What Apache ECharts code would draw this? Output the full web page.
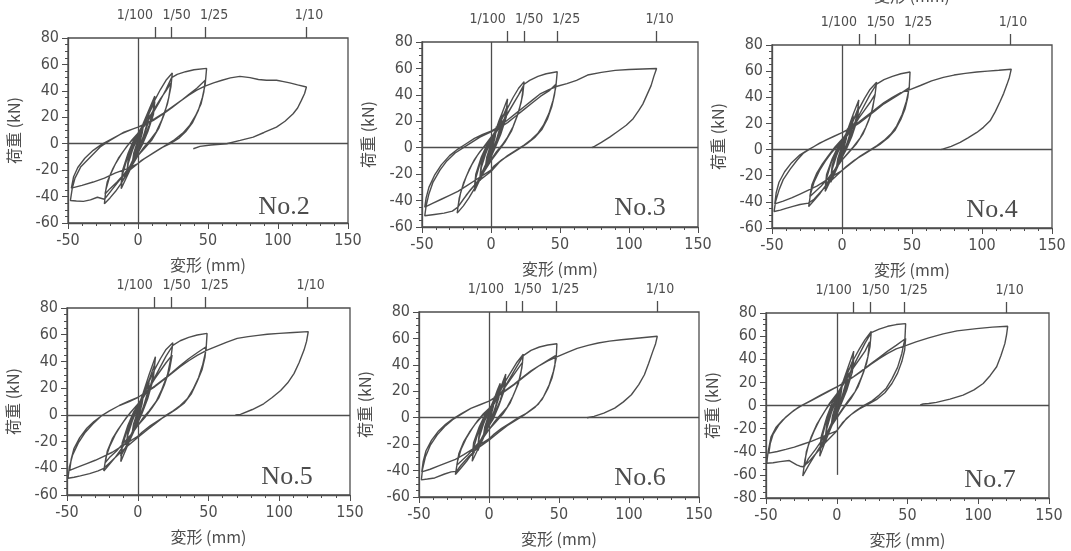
<!DOCTYPE html>
<html>
<head>
<meta charset="UTF-8">
<title>荷重-変形関係</title>
<script src="https://cdn.jsdelivr.net/npm/echarts@6/dist/echarts.min.js"></script>
<style>
html, body { margin: 0; padding: 0; background: #fff; }
#main { width: 1071px; height: 551px; }
</style>
</head>
<body>
<div id="main"></div>
<script>
// drift angle marks on the top axis (mm, height about 1200 mm)
var driftMm = [12, 24, 48, 120];
var driftLabels = ['1/100', '1/50', '1/25', '1/10'];
var specimenNames = ['No.2', 'No.3', 'No.4', 'No.5', 'No.6', 'No.7'];
var loadRanges = [[-60, 80], [-60, 80], [-60, 80], [-60, 80], [-60, 80], [-80, 80]];

// small cycles near the origin (No.2 - No.6)
var earlyCycles = [
  [0,0],[1,6],[2,10],[1.2,5],[0,0],[-1,-5],[-2,-9],[-1.2,-4],[0,1],
  [2,9],[4,16],[3,9],[1,1],[0,-3],[-2,-9],[-4,-15],[-3,-8],[-1,0],[0,3],
  [2,10],[4,15],[3,8],[1,0],[-2,-8],[-4,-14],[-3,-7],[0,3],
  [3,12],[6,21],[8,26],[7,17],[4,6],[1,-2],[0,-5],[-3,-13],[-6,-20],[-8,-25],[-7,-15],[-4,-5],[-1,3],[0,5],
  [4,15],[8,25],[7,16],[3,3],[0,-5],[-4,-14],[-8,-23],[-7,-13],[-3,-1],[0,5],
  [4,14],[8,24],[7,15],[3,2],[0,-4],[-4,-13],[-8,-22],[-7,-12],[-3,0],[0,5]
];
var earlyCyclesNo7 = [
  [0,0],[1,7],[2,12],[1.2,6],[0,0],[-1,-6],[-2,-11],[-1.2,-5],[0,1],
  [2,11],[4,20],[3,12],[1,2],[0,-3],[-2,-11],[-4,-19],[-3,-11],[-1,-1],[0,4],
  [2,12],[4,19],[3,10],[1,1],[-2,-10],[-4,-18],[-3,-9],[0,4],
  [3,15],[6,26],[8,33],[7,22],[4,9],[1,-1],[0,-5],[-3,-15],[-6,-25],[-8,-31],[-7,-20],[-4,-7],[-1,3],[0,6],
  [4,19],[8,30],[7,20],[3,5],[0,-6],[-4,-17],[-8,-28],[-7,-17],[-3,-2],[0,6],
  [4,18],[8,29],[7,19],[3,4],[0,-5],[-4,-16],[-8,-27],[-7,-16],[-3,-1],[0,6]
];

var no2Loops = [
  [4,16],[8,26],[12,36],[11,26],[8,14],[4,3],[0,-7],[-4,-16],[-8,-25],[-12,-34],[-11,-23],[-8,-12],[-4,-1],[0,7],
  [4,14],[8,23],[12,32],[11,22],[7,9],[3,-1],[0,-7],[-4,-14],[-8,-22],[-12,-30],[-11,-20],[-7,-7],[-3,3],[0,8],
  [4,15],[8,24],[12,33],[16,41],[20,48],[24.5,53.5],[23.5,43],[21,30],[17,18],[13,9],[8,2],[4,-3],[0,-9],
  [-4,-16],[-8,-23],[-12,-30],[-16,-36],[-20,-41],[-24,-45.4],[-23,-35],[-20,-24],[-16,-15],[-12,-8],[-8,-2],[-4,3],[0,8],
  [4,13],[8,20],[12,27],[16,34],[20,40],[23.5,46],[22,35],[19,23],[15,12],[10,3],[5,-3],[0,-9],
  [-5,-16],[-10,-23],[-15,-29],[-20,-34],[-23.5,-38],[-22,-29],[-18,-19],[-14,-11],[-10,-5],[-5,2],[0,8],
  [5,14],[10,22],[15,31],[20,41],[24,50],[28,52.5],[34,54.5],[40,56],[49,57],[48,45],[46,35],[43,25],[39,16],
  [34,9],[29,4],[23,0],[17,-3],[11,-7],[5,-11],[0,-15],[-6,-20],[-12,-26],[-18,-34],[-24,-42],[-29,-40.5],
  [-34,-42.5],[-39,-43.6],[-44,-43.3],[-48.3,-43],[-47,-34],[-45,-26],[-41,-17.7],[-34,-10],[-27,-2.5],[-20,2.5],
  [-10,8.8],[0,12.6],[6,15],[11,17.7],[18,22.5],[24,27],[30,32],[36,37],[42,42],[48,48],[47,39],[45,30],[41,21],
  [37,14],[32,8],[26,3],[20,-1],[14,-5],[8,-9],[2,-13],[0,-15],[-8,-19],[-16,-22],[-24,-26],[-32,-29],[-40,-31.5],
  [-47.6,-33.6],[-46,-25],[-43,-18],[-38,-11],[-32,-5],[-26,-0.5],[-20,3],[-12,7.5],[-4,11],[0,12.5],[6,15.5],
  [12,19],[18,23],[24,27.5],[30,32],[36,36.5],[42,40.5],[47.4,43.4],[54,46],[60,48],[66,49.8],[72.8,51],[80,50],
  [86,48.6],[91.8,48],[99,48],[104,47],[108.4,46],[114,44.5],[120.3,42.9],[119,38],[116.7,32.8],[114,27],
  [110.8,22.7],[105,17],[98.9,12.6],[90,8.5],[82.3,5],[73,2.5],[63.3,0],[52,-1],[44.3,-2],[39.5,-3.8]
];

var no3Loops = [
  [4,15],[8,26],[12,37],[11,27],[8,15],[4,4],[0,-6],[-4,-15],[-8,-24],[-12,-33],[-11,-23],[-8,-12],[-4,-1],[0,6],
  [4,13],[8,22],[12,32],[11,23],[7,10],[3,0],[0,-7],[-4,-14],[-8,-22],[-12,-30],[-11,-20],[-7,-7],[-3,2],[0,7],
  [4,14],[8,22],[12,30],[16,38],[20,45],[24,50],[23,40],[20,27],[16,16],[12,8],[8,2],[4,-3],[0,-9],
  [-4,-16],[-8,-24],[-12,-31],[-16,-38],[-20,-44],[-24.5,-49.5],[-23,-38],[-20,-27],[-16,-17],[-12,-9],[-8,-3],[-4,2],[0,7],
  [4,12],[8,19],[12,26],[16,33],[20,40],[23.5,46],[22,35],[19,24],[15,13],[10,4],[5,-3],[0,-10],
  [-5,-18],[-10,-26],[-15,-32],[-20,-39],[-24,-45],[-22,-34],[-18,-22],[-14,-13],[-10,-6],[-5,1],[0,8],
  [5,14],[10,22],[15,31],[20,40],[24,48],[28,51],[34,54],[40,56],[48,57.5],[47,46],[45,36],[42,26],[38,17],
  [34,11],[29,6],[24,2],[18,-2],[12,-6],[6,-11],[0,-18],[-10,-26],[-18,-36],[-24,-45],[-28,-48],[-34,-49.5],
  [-41,-50.5],[-48,-51.5],[-47,-44],[-45,-35],[-42,-26],[-37,-17],[-32,-10],[-26,-4],[-20,0],[-14,4],[-8,8],
  [0,12],[6,15],[12,19],[18,24],[24,29],[30,34],[36,39],[42,43],[47,48],[46,40],[44,31],[41,22],[37,14],[32,8],
  [26,3],[20,-1],[14,-5],[8,-9],[2,-14],[0,-17],[-6,-21],[-12,-25],[-18,-29],[-24,-33],[-30,-36],[-36,-39],
  [-42,-42],[-48,-45],[-47,-38],[-45,-30],[-41,-21],[-36,-13],[-30,-6],[-24,-1],[-18,3],[-12,7],[-6,10],[0,12.5],
  [6,16],[12,21],[18,26],[24,31],[30,36],[36,41],[42,44],[48,46.5],[55,48.5],[62,51],[70,55],[80,57],[90,58.5],
  [100,59.2],[110,59.6],[120,60],[118,54],[116,47],[113,40],[110,33],[107,28],[103,22],[98,17],[92,12.5],
  [86,8],[80,4],[75,1],[73,0]
];

var no4Loops = [
  [4,15],[8,27],[12,38],[11,28],[8,15],[4,4],[0,-6],[-4,-14],[-8,-23],[-12,-32],[-11,-22],[-8,-11],[-4,-1],[0,6],
  [4,13],[8,22],[12,33],[11,23],[7,10],[3,0],[0,-6],[-4,-13],[-8,-21],[-12,-29],[-11,-19],[-7,-7],[-3,2],[0,7],
  [4,14],[8,22],[12,31],[16,39],[20,46],[24.7,51.5],[23.5,41],[21,28],[17,17],[13,9],[8,2],[4,-3],[0,-8],
  [-4,-14],[-8,-21],[-12,-28],[-16,-34],[-20,-39],[-23.8,-43.6],[-22.5,-34],[-20,-25],[-16,-16],[-12,-9],[-8,-3],[-4,2],[0,7],
  [4,11],[8,17],[12,24],[16,30],[20,36],[23.5,42],[22,32],[19,22],[15,12],[10,4],[5,-2],[0,-8],
  [-5,-15],[-10,-22],[-15,-28],[-20,-33],[-23,-36],[-21.5,-27],[-18,-18],[-14,-11],[-10,-5],[-5,2],[0,8],
  [5,14],[10,22],[15,32],[20,42],[24.7,50],[30,53.5],[36,56],[42,58],[48.6,59.3],[48,47],[46,37],[43,27],[39,18],
  [35,12],[30,7],[25,3],[19,-1],[13,-5],[7,-10],[0,-16],[-8,-24],[-15,-32],[-20,-38],[-24,-41],[-30,-42],
  [-35,-43.5],[-40,-45],[-44,-46.3],[-48.5,-47.4],[-47.5,-40],[-45,-31],[-42,-23],[-37,-15],[-32,-8],[-27.8,-3],
  [-22,1],[-16,5],[-8,9],[0,13],[6,16],[12,20],[18,25],[24,30],[30,35],[36,39],[42,43],[47.8,47.2],[47,40],
  [45,31],[42,23],[38,15],[33,9],[27,4],[21,0],[15,-4],[9,-8],[3,-13],[0,-16],[-6,-20],[-12,-24],[-18,-28],
  [-24,-31],[-30,-34],[-36,-37],[-42,-39.5],[-48,-41.6],[-47,-33],[-45,-25],[-41,-17],[-36,-10],[-30,-4],[-24,0],
  [-18,3.5],[-12,7],[-6,10],[0,13],[6,16.5],[12,21],[18,26],[24,31],[30,36],[36,40],[42,43.5],[48.6,45.9],
  [56,49],[64,52.5],[72.4,55.2],[80,57],[88,58.3],[96.3,59.3],[104,60],[112,60.7],[120.9,61.5],[119.5,55],
  [117.8,49.7],[115.5,43],[113,37],[109.5,29],[105.8,22],[101,17],[96.3,13.1],[90,9],[84.4,5.5],[78,2.5],
  [72.4,0.5],[70.5,0]
];

var no5Loops = [
  [4,17],[8,30],[12.5,43.5],[11.5,32],[8,18],[4,6],[0,-5],[-4,-15],[-8,-25],[-12,-35],[-11,-24],[-8,-13],[-4,-2],[0,6],
  [4,15],[8,26],[12,38],[11,27],[7,12],[3,1],[0,-6],[-4,-14],[-8,-23],[-12,-31],[-11,-21],[-7,-8],[-3,2],[0,7],
  [4,15],[8,25],[12,34],[16,42],[20,49],[24.8,54],[23.5,43],[21,30],[17,19],[13,10],[8,3],[4,-2],[0,-8],
  [-4,-14],[-8,-20],[-12,-26],[-16,-32],[-20,-37],[-24,-42],[-22.5,-32],[-20,-24],[-16,-15],[-12,-8],[-8,-2],[-4,3],[0,8],
  [4,13],[8,20],[12,27],[16,33],[20,39],[24.3,44.7],[22.5,34],[19,23],[15,13],[10,5],[5,-2],[0,-8],
  [-5,-15],[-10,-21],[-15,-27],[-20,-32],[-22.9,-35.7],[-21.5,-27],[-18,-18],[-14,-11],[-10,-5],[-5,2],[0,8],
  [5,15],[10,24],[15,34],[20,44],[24.8,52],[30,55.5],[36,58],[42,59.8],[49,61],[48.3,49],[46,38],[43,28],[39,19],
  [35,12],[30,7],[25,3],[19,-1],[13,-6],[7,-11],[0,-17],[-8,-24],[-15,-31],[-20,-36],[-24,-40],[-28,-42],
  [-34,-44],[-40.6,-45.7],[-45,-46.7],[-49.3,-47.5],[-48.3,-39],[-46,-30],[-42,-21],[-37,-13],[-31,-6],[-26,-1],
  [-20,3],[-13,7],[-6,10.5],[0,13],[6,17],[12,21.5],[18,26.5],[24,31.5],[30,37],[36,42],[42,46.5],[48.3,51],
  [47.5,43],[45.5,34],[42,25],[38,16],[33,9],[27,4],[21,0],[15,-4],[9,-8],[3,-13],[0,-16],[-6,-20],[-12,-24],
  [-18,-28],[-24,-31],[-30,-34],[-36,-36.5],[-42,-39],[-48.1,-41.5],[-47,-33],[-45,-25],[-41,-17],[-36,-10],
  [-31,-5],[-26,-1],[-20,3],[-13,7],[-6,10],[0,13],[6,17],[12,21],[18,26],[24,31],[30,36],[36,40.5],[42,44.5],
  [49,48.5],[56,51.5],[63,54.5],[70.3,57.3],[78,58.6],[85,59.5],[91.5,60.3],[100,61],[110,61.7],[120.5,62.3],
  [119.3,55],[117.5,48.5],[114,39],[110.4,30.9],[106,24],[101,18.3],[95,13],[89,8.3],[81,4],[72.6,0.3],[69,0]
];

var no6Loops = [
  [4,12],[8,22],[12,33],[11,24],[8,13],[4,3],[0,-6],[-4,-15],[-8,-24],[-12,-33],[-11,-23],[-8,-12],[-4,-2],[0,5],
  [4,11],[8,20],[12,30],[11,21],[7,9],[3,-1],[0,-6],[-4,-13],[-8,-21],[-12,-29],[-11,-19],[-7,-7],[-3,2],[0,6],
  [4,13],[8,20],[12,28],[16,35],[20,42],[24.5,48],[23.5,38],[21,26],[17,16],[13,8],[8,2],[4,-3],[0,-9],
  [-4,-15],[-8,-21],[-12,-27],[-16,-33],[-20,-38],[-24,-43],[-22.5,-33],[-20,-24],[-16,-15],[-12,-8],[-8,-2],[-4,3],[0,7],
  [4,12],[8,18],[12,24],[16,30],[20,36],[24,42],[22.5,32],[19,21],[15,11],[10,3],[5,-3],[0,-9],
  [-5,-16],[-10,-22],[-15,-28],[-20,-33],[-23,-36],[-21.5,-27],[-18,-18],[-14,-11],[-10,-5],[-5,1],[0,7],
  [5,13],[10,21],[15,30],[20,39],[24.5,47],[30,51],[36,53.5],[42,55],[48.5,56],[48,45],[46,35],[43,25],[39,16],
  [35,10],[30,6],[25,2],[19,-2],[13,-6],[7,-11],[0,-17],[-8,-23],[-15,-30],[-20,-36],[-23.3,-40.6],[-27,-41],
  [-31.7,-42.6],[-38.8,-45.6],[-44,-46.4],[-48.3,-47],[-47.5,-39],[-45.5,-30],[-42,-21],[-37,-13],[-31,-6],
  [-26,-1.5],[-20,2.5],[-13,7],[-6,10],[0,12.5],[6,16],[12,20.5],[18,25],[24,30],[30,35],[36,39.5],[42,43.5],
  [47.5,47],[47,39],[45,30],[42,22],[38,14],[33,8],[27,3.5],[21,0],[15,-4],[9,-8],[3,-13],[0,-16],[-6,-20],
  [-12,-24],[-18,-28],[-24,-31.5],[-30,-34],[-36,-36.5],[-42,-39],[-48,-41],[-47,-33],[-45,-25],[-41,-17],
  [-36,-10],[-31,-5],[-26,-1],[-20,3],[-13,7],[-6,10],[0,12.5],[6,16.5],[12,21],[18,25.5],[24,30.5],[30,35.5],
  [36,39.5],[42,43],[49.3,46.4],[56,49.5],[63,52.5],[70.7,54.7],[78,56.5],[86,58],[94.5,59],[102,59.8],
  [111,60.7],[120.2,61.6],[119,56],[117,50.2],[114,41],[111,32.5],[107,25],[101.7,17.4],[96,12],[89.8,7.3],
  [82,3.5],[75,1],[70,0]
];

var no7Loops = [
  [4,19],[8,33],[12,47],[11,35],[8,20],[4,6],[0,-8],[-4,-19],[-8,-31],[-12,-44],[-11,-31],[-8,-16],[-4,-3],[0,8],
  [4,17],[8,29],[12,41],[11,29],[7,13],[3,1],[0,-8],[-4,-17],[-8,-28],[-12,-39],[-11,-27],[-7,-10],[-3,3],[0,9],
  [4,18],[8,29],[12,40],[16,49],[20,57],[24.4,64],[23.5,51],[21,36],[17,23],[13,12],[8,4],[4,-3],[0,-10],
  [-4,-18],[-8,-27],[-12,-36],[-16,-44],[-20,-52],[-24,-61],[-22.5,-47],[-20,-34],[-16,-22],[-12,-12],[-8,-4],[-4,3],[0,10],
  [4,17],[8,25],[12,33],[16,40],[20,47],[23.2,55],[22,42],[19,29],[15,16],[10,6],[5,-2],[0,-11],
  [-5,-20],[-10,-29],[-15,-38],[-20,-46],[-22.8,-52.7],[-21.5,-40],[-18,-27],[-14,-16],[-10,-8],[-5,2],[0,10],
  [5,19],[10,30],[15,42],[20,54],[24.4,63],[30,66],[36,68.5],[42,70],[48.7,70.8],[48.2,58],[46,45],[43,33],[39,23],
  [35,15],[30,9],[25,4],[19,0],[13,-5],[7,-11],[0,-22],[-8,-32],[-15,-42],[-20,-49],[-24,-53],[-26,-52.5],
  [-28.3,-51.3],[-33.5,-47.6],[-40,-48.5],[-45,-49.5],[-49.5,-50],[-48.5,-40],[-46.4,-27],[-43,-19],[-38.2,-12.5],
  [-32,-6],[-26.4,-1],[-19.3,3.3],[-12,8],[-6,12],[0,16],[6,20],[12,25],[18,30.5],[24,36],[30,41.5],[36,47],
  [42,52],[48.7,57.9],[48,48],[46,38],[43,28],[39,19],[34,11],[28,5],[22,1],[16,-3],[10,-8],[4,-15],[0,-22],
  [-6,-25],[-12,-28],[-18,-31],[-24,-33.5],[-30,-36],[-36,-38],[-42,-39.8],[-48,-41.2],[-47,-33],[-45,-25],
  [-41,-17],[-36,-10],[-30,-4],[-24,0.5],[-18,4.5],[-12,8.5],[-6,12.5],[0,16],[6,20.5],[12,25],[18,30],
  [24,35.5],[30,40.5],[36,45],[42,49],[49.2,52],[56,55],[65,58.5],[75.2,62],[85,64.5],[98.8,66.5],[110,67.8],
  [120.8,68.5],[120,61],[118.8,53.5],[116,43],[113,33.5],[108.5,26],[103.5,19],[97,13.5],[89.3,9],[80,5.5],
  [70.4,2.7],[65,1.7],[61,1.3],[59,0.5]
];

var panelData = [
  earlyCycles.concat(no2Loops),
  earlyCycles.concat(no3Loops),
  earlyCycles.concat(no4Loops),
  earlyCycles.concat(no5Loops),
  earlyCycles.concat(no6Loops),
  earlyCyclesNo7.concat(no7Loops)
];

// plot boxes in pixels (left, top, width, height)
var boxes = [
  [68, 38, 280, 185], [422, 42, 276, 185], [772, 45, 280, 183],
  [67, 308, 283, 187], [419, 312, 280, 185], [766, 313, 283, 185]
];
var namePos = [[284, 207], [640, 208], [992, 210], [287, 477], [640, 478], [990, 480]];
// horizontal nudge (px) of each drift label against its tick, as laid out in the figure
var driftShift = [-20, 5, 9, 3];

var ink = '#4d4d4d';
var tickFont = '"Liberation Sans Narrow", "DejaVu Sans Condensed", "Noto Sans CJK JP", sans-serif';
var jpFont = '"Noto Sans CJK JP", sans-serif';

var driftRich = {};
for (var k = 0; k < driftShift.length; k++) {
  var s = driftShift[k];
  driftRich['d' + k] = {
    color: ink, fontSize: 14, fontFamily: tickFont,
    padding: s >= 0 ? [0, 0, 0, 2 * s] : [0, -2 * s, 0, 0]
  };
}

var grid = [], xAxis = [], yAxis = [], series = [], graphic = [];

for (var i = 0; i < 6; i++) {
  var b = boxes[i];
  grid.push({
    left: b[0], top: b[1], width: b[2], height: b[3],
    containLabel: false, outerBoundsMode: 'none',
    show: true, borderColor: ink, borderWidth: 1.3, backgroundColor: 'transparent'
  });
  xAxis.push({
    gridIndex: i, type: 'value', position: 'bottom', min: -50, max: 150, interval: 50,
    axisLine: { onZero: false, lineStyle: { color: ink, width: 1.3 } },
    axisTick: { length: 6, lineStyle: { color: ink } },
    minorTick: { show: true, splitNumber: 5, length: 3, lineStyle: { color: ink } },
    axisLabel: { color: ink, fontSize: 16, fontFamily: tickFont, margin: 10 },
    splitLine: { show: false },
    name: '変形 (mm)', nameLocation: 'middle', nameGap: 34,
    nameTextStyle: { color: ink, fontSize: 16, fontFamily: jpFont }
  });
  xAxis.push({
    gridIndex: i, type: 'value', position: 'top', min: -50, max: 150,
    axisLine: { show: false, onZero: false },
    axisTick: { show: true, length: 11, customValues: driftMm, lineStyle: { color: ink, width: 1.3 } },
    axisLabel: {
      show: true, customValues: driftMm, hideOverlap: false, margin: 16,
      color: ink, fontSize: 14, fontFamily: tickFont, rich: driftRich,
      formatter: function (v) {
        var k = driftMm.indexOf(v);
        return k >= 0 ? '{d' + k + '|' + driftLabels[k] + '}' : '';
      }
    },
    splitLine: { show: false },
    name: i === 2 ? '変形 (mm)' : '', nameLocation: 'middle', nameGap: 41,
    nameTextStyle: { color: ink, fontSize: 16, fontFamily: jpFont }
  });
  yAxis.push({
    gridIndex: i, type: 'value', min: loadRanges[i][0], max: loadRanges[i][1], interval: 20,
    axisLine: { onZero: false, lineStyle: { color: ink, width: 1.3 } },
    axisTick: { length: 6, lineStyle: { color: ink } },
    minorTick: { show: true, splitNumber: 4, length: 3, lineStyle: { color: ink } },
    axisLabel: { color: ink, fontSize: 16, fontFamily: tickFont, margin: 9 },
    splitLine: { show: false },
    name: '荷重 (kN)', nameLocation: 'middle', nameGap: 46, nameRotate: 90,
    nameTextStyle: { color: ink, fontSize: 16, fontFamily: jpFont }
  });
  series.push({
    type: 'line', xAxisIndex: 2 * i, yAxisIndex: i,
    data: panelData[i], showSymbol: false, symbol: 'none',
    lineStyle: { color: ink, width: 1.4 },
    markLine: {
      silent: true, symbol: 'none', animation: false,
      label: { show: false },
      lineStyle: { color: ink, type: 'solid', width: 1.3 },
      data: [
        [{ coord: [-50, 0] }, { coord: [150, 0] }],
        [{ coord: [0, loadRanges[i][1]] }, { coord: [0, i === 5 ? -60 : loadRanges[i][0]] }]
      ]
    }
  });
  graphic.push({
    type: 'text', x: namePos[i][0], y: namePos[i][1],
    style: {
      text: specimenNames[i], fill: ink, align: 'center', verticalAlign: 'middle',
      font: '26px "Liberation Serif", "DejaVu Serif", serif'
    }
  });
}

var chart = echarts.init(document.getElementById('main'));
chart.setOption({
  animation: false,
  backgroundColor: '#fff',
  grid: grid,
  xAxis: xAxis,
  yAxis: yAxis,
  series: series,
  graphic: graphic
});
</script>
</body>
</html>
